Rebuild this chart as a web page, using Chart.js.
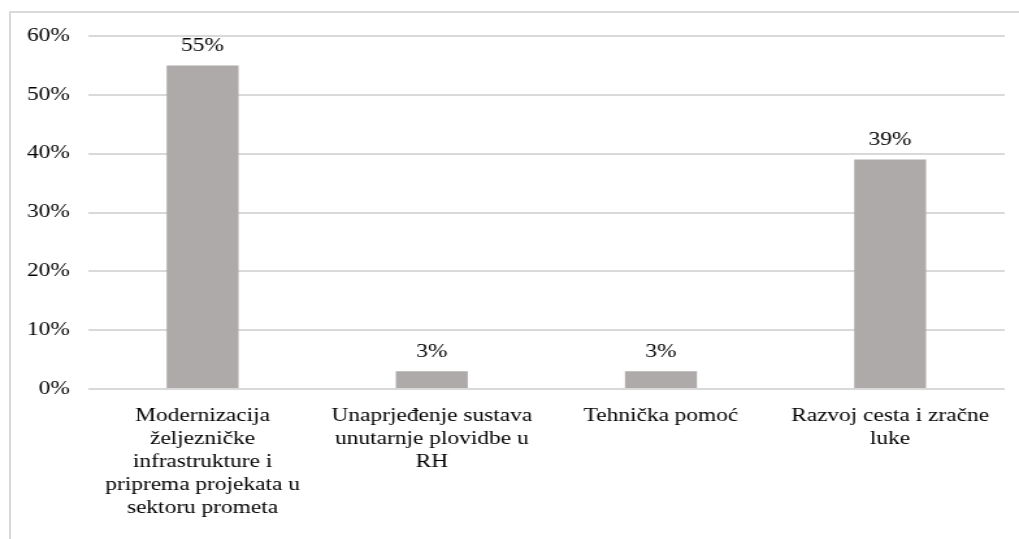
<!DOCTYPE html>
<html>
<head>
<meta charset="utf-8">
<script src="https://cdn.jsdelivr.net/npm/chart.js@4/dist/chart.umd.min.js"></script>
<style>
  html, body { margin: 0; padding: 0; background: #fff; overflow: hidden; }
  #wrap { position: relative; width: 1019px; height: 539px; overflow: hidden; }
  #frame { position: absolute; left: 9px; top: 11px; width: 1100px; height: 700px; border: 2px solid #d9d9d9; }
  #chart { position: absolute; left: 0; top: 0; }
</style>
</head>
<body>
<div id="wrap">
  <div id="frame"></div>
  <!-- source picture is stretched horizontally, so the canvas is too -->
  <canvas id="chart" width="784" height="539" style="width:1019px;height:539px"></canvas>
</div>
<script>
const categories = [
    ['Modernizacija', 'željezničke', 'infrastrukture i', 'priprema projekata u', 'sektoru prometa'],
    ['Unaprjeđenje sustava', 'unutarnje plovidbe u', 'RH'],
    ['Tehnička pomoć'],
    ['Razvoj cesta i zračne', 'luke']
];
const shares = [55, 3, 3, 39];
const yTicks = [0, 10, 20, 30, 40, 50, 60];

const FONT = "'Liberation Serif', 'Times New Roman', serif";

// draws the "55%" style labels above each bar
const valueLabels = {
    id: 'valueLabels',
    afterDatasetsDraw(chart) {
        const ctx = chart.ctx;
        const meta = chart.getDatasetMeta(0);
        ctx.save();
        ctx.font = '18px ' + FONT;
        ctx.fillStyle = '#000';
        ctx.textAlign = 'center';
        ctx.textBaseline = 'middle';
        meta.data.forEach((bar, i) => {
            ctx.fillText(shares[i] + '%', bar.x, bar.y - 19);
        });
        ctx.restore();
    }
};

new Chart(document.getElementById('chart').getContext('2d'), {
    type: 'bar',
    data: {
        labels: categories,
        datasets: [{
            data: shares,
            backgroundColor: '#aeaaaa',
            barPercentage: 0.314,
            categoryPercentage: 1
        }]
    },
    options: {
        responsive: false,
        animation: false,
        layout: { padding: { top: 36, right: 11, left: 0, bottom: 0 } },
        plugins: { legend: { display: false }, tooltip: { enabled: false } },
        scales: {
            x: {
                grid: { display: false },
                border: { display: false },
                ticks: {
                    color: '#000',
                    font: { family: FONT, size: 18, lineHeight: 1.28 },
                    padding: 8,
                    maxRotation: 0,
                    autoSkip: false
                },
                afterFit(scale) { scale.height = 150; }
            },
            y: {
                min: 0,
                max: 60,
                afterBuildTicks(scale) { scale.ticks = yTicks.map(v => ({ value: v })); },
                grid: { color: '#d9d9d9', lineWidth: 2, drawTicks: false },
                border: { display: false },
                ticks: {
                    color: '#000',
                    font: { family: FONT, size: 18 },
                    padding: 14,
                    callback: v => v + '%'
                },
                afterFit(scale) { scale.width = 67.7; }
            }
        }
    },
    plugins: [valueLabels]
});
</script>
</body>
</html>
